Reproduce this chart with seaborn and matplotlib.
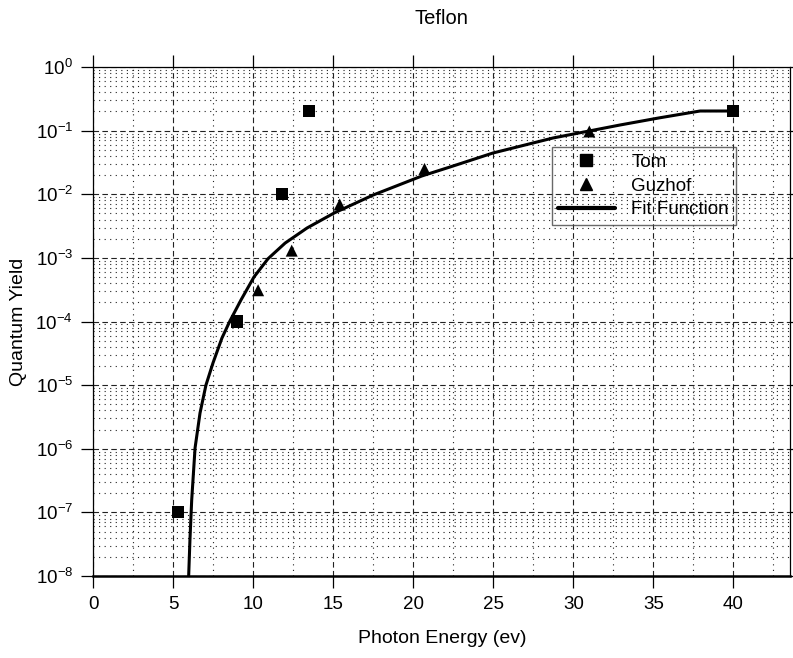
import numpy as np
import pandas as pd
import matplotlib
matplotlib.use("Agg")
import matplotlib.pyplot as plt
import seaborn as sns
from matplotlib.ticker import LogLocator, MultipleLocator, NullFormatter
from matplotlib.lines import Line2D

# ---- data ----
tom_energy = [5.3, 9.0, 11.8, 13.5, 40.0]
tom_yield = [1e-7, 1.0e-4, 1.0e-2, 0.2, 0.2]

guzhof_energy = [10.3, 12.4, 15.4, 20.7, 31.0]
guzhof_yield = [3.1e-4, 1.3e-3, 6.9e-3, 0.025, 0.097]

fit_energy = [5.96, 6.04, 6.15, 6.36, 6.67, 7.04, 7.48, 8.04, 8.54, 9.23,
              10.04, 10.92, 11.99, 13.36, 15.05, 17.48, 20.54, 22.29, 24.98,
              28.73, 32.92, 35.33, 37.92, 40.0]
fit_yield = [1e-8, 3.7e-8, 1.57e-7, 1.03e-6, 3.65e-6, 1.0e-5, 2.23e-5, 5.5e-5,
             1.02e-4, 2.18e-4, 5.0e-4, 9.7e-4, 1.71e-3, 2.95e-3, 5.07e-3,
             9.7e-3, 0.0194, 0.0268, 0.0445, 0.0766, 0.1226, 0.158, 0.2034,
             0.2034]

title = "Teflon"
xlabel = "Photon Energy (ev)"
ylabel = "Quantum Yield"

# ---- style ----
sns.set_theme(style="ticks")
plt.rcParams["font.family"] = ["Liberation Sans", "DejaVu Sans"]
plt.rcParams["mathtext.fontset"] = "custom"
plt.rcParams["mathtext.rm"] = "Liberation Sans"
plt.rcParams["mathtext.it"] = "Liberation Sans:italic"
plt.rcParams["mathtext.bf"] = "Liberation Sans:bold"
for k in ["text.color", "axes.labelcolor", "xtick.color", "ytick.color",
          "axes.edgecolor"]:
    plt.rcParams[k] = "black"

fig = plt.figure(figsize=(7.93, 6.58), dpi=100)
W, H = 793, 658
x0, x1, y0, y1 = 93.3, 790.3, 67, 576
ax = fig.add_axes([x0 / W, 1 - y1 / H, (x1 - x0) / W, (y1 - y0) / H])
ax.set_facecolor("white")

fit_df = pd.DataFrame({"energy": fit_energy, "yield": fit_yield})
tom_df = pd.DataFrame({"energy": tom_energy, "yield": tom_yield})
guz_df = pd.DataFrame({"energy": guzhof_energy, "yield": guzhof_yield})

sns.lineplot(data=fit_df, x="energy", y="yield", ax=ax, color="black",
             lw=2.2, sort=False, estimator=None, zorder=4, legend=False)
sns.scatterplot(data=tom_df, x="energy", y="yield", ax=ax, marker="s",
                s=75, color="black", edgecolor="none", zorder=5, legend=False)
sns.scatterplot(data=guz_df, x="energy", y="yield", ax=ax, marker="^",
                s=75, color="black", edgecolor="none", zorder=5, legend=False)

ax.set_yscale("log")
ax.set_xlim(0, 43.56)
ax.set_ylim(1e-8, 1)

ax.xaxis.set_major_locator(MultipleLocator(5))
ax.xaxis.set_minor_locator(MultipleLocator(2.5))
ax.yaxis.set_major_locator(LogLocator(base=10, numticks=20))
ax.yaxis.set_minor_locator(LogLocator(base=10, subs=np.arange(2, 10), numticks=20))
ax.yaxis.set_minor_formatter(NullFormatter())

ax.grid(which="major", color="#222222", linestyle=(0, (5, 3)), lw=0.8)
ax.grid(which="minor", color="#222222", linestyle=(0, (1, 4)), lw=0.8)
ax.set_axisbelow(True)

ax.tick_params(which="major", direction="out", length=8.6, width=0.9,
               top=True, right=True, labeltop=False, labelright=False,
               labelsize=13.5, color="black", labelcolor="black", pad=6)
ax.tick_params(which="minor", length=0)

for side, sp in ax.spines.items():
    sp.set_color("black")
    sp.set_linewidth(0.9)
ax.spines["bottom"].set_linewidth(1.8)

ax.set_xlabel(xlabel, fontsize=14, labelpad=12)
ax.set_ylabel(ylabel, fontsize=14, labelpad=6)
fig.text((x0 + x1) / 2 / W, 1 - 24 / H, title, ha="center", va="baseline",
         fontsize=14.5)

handles = [
    Line2D([], [], marker="s", color="black", linestyle="none", markersize=9),
    Line2D([], [], marker="^", color="black", linestyle="none", markersize=9),
    Line2D([], [], color="black", lw=3),
]
leg = ax.legend(handles, ["Tom", "Guzhof", "Fit Function"], loc="upper left",
                bbox_to_anchor=((551.7 - x0) / (x1 - x0), (y1 - 147.3) / (y1 - y0)),
                frameon=True, fancybox=False, facecolor="none", framealpha=None,
                edgecolor="#444444", fontsize=13.5, handlelength=3.0,
                handletextpad=0.9, borderpad=0.35, labelspacing=0.35,
                borderaxespad=0)
leg.get_frame().set_linewidth(1.0)

fig.savefig("out.png", dpi=100)
